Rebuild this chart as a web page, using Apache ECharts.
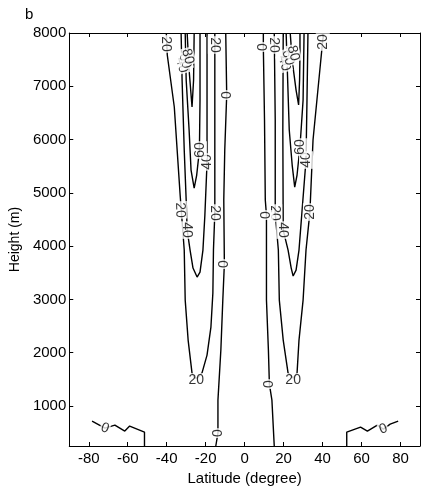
<!DOCTYPE html>
<html>
<head>
<meta charset="utf-8">
<script src="https://cdn.jsdelivr.net/npm/echarts@6/dist/echarts.min.js"></script>
<style>
  html, body { margin: 0; padding: 0; background: #fff; }
  #chart { width: 421px; height: 496px; }
</style>
</head>
<body>
<div id="chart"></div>
<script>
// Axis ticks
const xTicks = [-80, -60, -40, -20, 0, 20, 40, 60, 80];
const yTicks = [1000, 2000, 3000, 4000, 5000, 6000, 7000, 8000];

// Contour lines, [latitude, height] pairs
// Southern hemisphere lobe
const s20 = [[-40.2,8000],[-39.7,7587],[-36.1,6611],[-33.1,4959],[-31.0,3927],[-30.5,2988],[-29.0,2238],[-27.0,1618],[-25.7,1525],[-24.4,1525],[-21.9,1618],[-19.3,1956],[-17.3,2482],[-16.3,3120],[-16.0,3927],[-15.3,4621],[-15.3,6367],[-15.3,8000]];
const s40 = [[-32.6,8000],[-32.1,7118],[-31.0,5804],[-30.0,4865],[-29.5,4302],[-28.0,3927],[-26.5,3589],[-24.4,3420],[-22.9,3514],[-21.4,3927],[-20.4,4584],[-19.3,5560],[-19.3,6742],[-19.3,8000]];
const s60 = [[-30.5,8000],[-30.0,7118],[-28.5,6179],[-27.5,5428],[-25.9,5091],[-24.6,5335],[-23.2,5804],[-22.9,6742],[-22.9,8000]];
const s80 = [[-29.5,8000],[-28.5,7305],[-27.0,6611],[-26.2,7118],[-25.9,8000]];
const s0 = [[-9.7,8000],[-9.2,6836],[-10.2,5804],[-10.7,4865],[-10.4,3664],[-11.2,2988],[-12.2,2050],[-13.7,1111],[-13.7,492],[-14.8,250]];
const sPolar0 = [[-78.3,717],[-71.7,586],[-66.6,642],[-61.5,530],[-59.0,624],[-51.4,511],[-51.4,250]];

// Northern hemisphere lobe
const n20 = [[15.2,8000],[15.7,6367],[15.7,4621],[17.3,3927],[17.8,2988],[19.8,2238],[22.3,1618],[24.9,1525],[26.9,1618],[27.9,2238],[30.0,2988],[31.5,3927],[33.5,4640],[35.1,5992],[37.1,6742],[40.1,7869],[40.7,8000]];
const n40 = [[19.8,8000],[19.6,6179],[19.8,4302],[22.3,3927],[23.9,3589],[24.9,3439],[26.4,3551],[27.9,3927],[29.5,4678],[31.5,5616],[32.0,6742],[32.5,8000]];
const n60 = [[21.3,8000],[22.9,6179],[24.4,5522],[25.7,5109],[26.9,5335],[28.4,5860],[30.0,6742],[30.5,8000]];
const n80 = [[23.4,8000],[24.4,7487],[26.4,6929],[27.7,6649],[28.2,7118],[28.4,7587],[28.4,8000]];
const n0 = [[9.6,8000],[9.6,7737],[10.2,6367],[10.6,4865],[11.2,4584],[11.2,2988],[12.2,2050],[12.7,1412],[14.0,1111],[15.2,250]];
const nPolar0 = [[52.4,250],[52.4,511],[59.5,605],[63.0,530],[68.1,642],[71.2,567],[74.7,661],[78.8,717]];

const contours = [s20, s40, s60, s80, s0, sPolar0, n20, n40, n60, n80, n0, nPolar0];

// Contour labels: [latitude, height, level]
const contourLabels = [
  [-40.2,7794,'20'], [-33.1,4678,'20'], [-24.8,1487,'20'], [-15.3,4621,'20'], [-15.3,7775,'20'],
  [-32.3,7400,'40'], [-30.6,7480,'60'], [-29.2,7560,'80'],
  [-29.5,4302,'40'], [-19.3,5580,'40'], [-22.9,5804,'60'],
  [-9.2,6836,'0'], [-10.4,3664,'0'], [-13.7,492,'0'], [-71.7,586,'0'],
  [15.2,7775,'20'], [15.7,4621,'20'], [24.9,1487,'20'], [33.5,4640,'20'], [40.1,7831,'20'],
  [20.3,7430,'40'], [22.3,7540,'60'], [25.0,7620,'80'],
  [19.8,4302,'40'], [31.5,5616,'40'], [28.4,5860,'60'],
  [9.6,7737,'0'], [11.2,4584,'0'], [12.7,1412,'0'], [71.2,567,'0']
];
// Text angle of each label, in the same order
const labelAngles = [
  -90, -88, 0, -90, -90,
  -75, -75, -75,
  -90, 90, 90,
  90, 90, 90, -20,
  -90, -90, 0, 90, 90,
  -75, -75, -75,
  -90, 90, 90,
  90, 90, 90, 20
];

const FONT = '"Liberation Sans", Arial, Helvetica, sans-serif';
const ink = '#000';

const chart = echarts.init(document.getElementById('chart'), null, { renderer: 'canvas' });

const lineSeries = contours.map(pts => ({
  type: 'line',
  data: pts,
  showSymbol: false,
  symbol: 'none',
  smooth: false,
  silent: true,
  z: 2,
  lineStyle: { color: ink, width: 1.4 },
  animation: false
}));

const labelSeries = {
  type: 'scatter',
  symbolSize: 0.01,
  silent: true,
  z: 5,
  itemStyle: { color: 'rgba(0,0,0,0)' },
  data: contourLabels.map((d, i) => ({
    value: [d[0], d[1]],
    label: {
      show: true,
      position: 'inside',
      formatter: d[2],
      rotate: labelAngles[i],
      color: ink,
      fontFamily: FONT,
      fontSize: 14,
      backgroundColor: '#fff',
      padding: [0, 1]
    }
  })),
  animation: false
};

const boxAxisLine = { show: true, onZero: false, lineStyle: { color: ink, width: 1 } };

chart.setOption({
  animation: false,
  backgroundColor: '#fff',
  grid: { left: 66, right: 1, top: 33, bottom: 50 },
  graphic: [{
    type: 'text', left: 25, top: 7,
    style: { text: 'b', fontSize: 15, fontFamily: FONT, fill: ink }
  }],
  xAxis: [{
    type: 'value', min: -90, max: 90, position: 'bottom',
    axisLine: boxAxisLine,
    axisTick: { show: true, inside: true, length: 4, customValues: xTicks, lineStyle: { color: ink } },
    axisLabel: { customValues: xTicks, color: ink, fontSize: 15, fontFamily: FONT, margin: 5 },
    splitLine: { show: false },
    name: 'Latitude (degree)', nameLocation: 'middle', nameGap: 21,
    nameTextStyle: { color: ink, fontSize: 15, fontFamily: FONT }
  }, {
    type: 'value', min: -90, max: 90, position: 'top',
    axisLine: boxAxisLine,
    axisTick: { show: true, inside: true, length: 4, customValues: xTicks, lineStyle: { color: ink } },
    axisLabel: { show: false },
    splitLine: { show: false }
  }],
  yAxis: [{
    type: 'value', min: 250, max: 8000, position: 'left',
    axisLine: boxAxisLine,
    axisTick: { show: true, inside: true, length: 4, customValues: yTicks, lineStyle: { color: ink } },
    axisLabel: { customValues: yTicks, formatter: v => String(v), color: ink, fontSize: 15, fontFamily: FONT, margin: 3 },
    splitLine: { show: false },
    name: 'Height (m)', nameLocation: 'middle', nameGap: 43,
    nameTextStyle: { color: ink, fontSize: 14, fontFamily: FONT }
  }, {
    type: 'value', min: 250, max: 8000, position: 'right',
    axisLine: boxAxisLine,
    axisTick: { show: true, inside: true, length: 4, customValues: yTicks, lineStyle: { color: ink } },
    axisLabel: { show: false },
    splitLine: { show: false }
  }],
  series: lineSeries.concat([labelSeries])
});
</script>
</body>
</html>
